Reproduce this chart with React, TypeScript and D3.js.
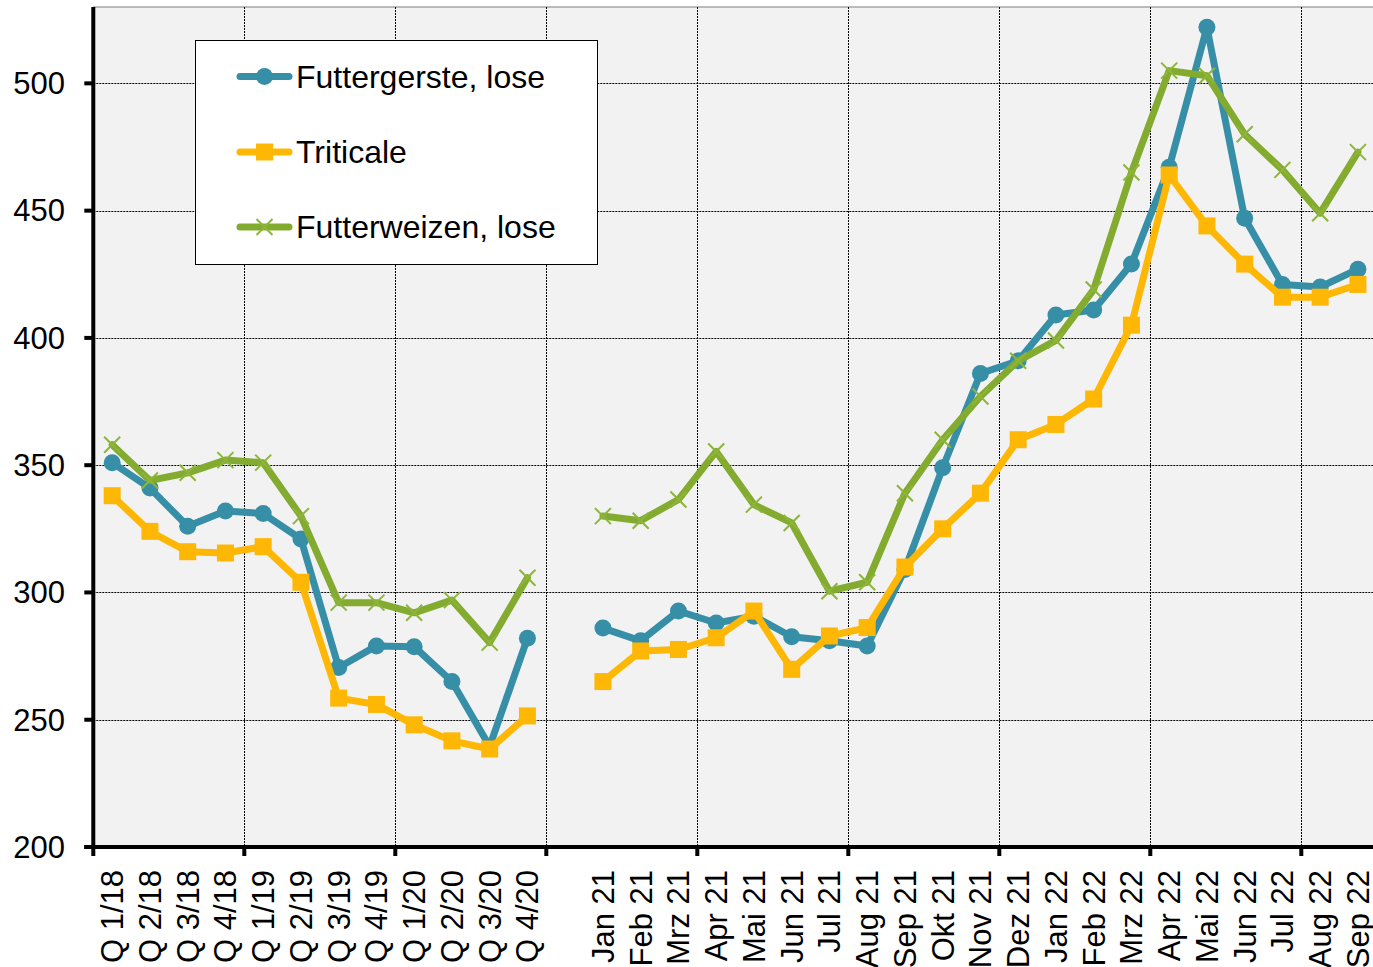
import { useEffect, useRef } from "react";
import * as d3 from "d3";

const W = 1373;
const H = 967;
const PLOT = { left: 93.3, top: 7, bottom: 847 };
const CAT_W = 37.75;
const FONT = '"Liberation Sans", Arial, sans-serif';

const CATEGORIES = [
  "Q 1/18", "Q 2/18", "Q 3/18", "Q 4/18",
  "Q 1/19", "Q 2/19", "Q 3/19", "Q 4/19",
  "Q 1/20", "Q 2/20", "Q 3/20", "Q 4/20",
  "",
  "Jan 21", "Feb 21", "Mrz 21", "Apr 21", "Mai 21", "Jun 21", "Jul 21",
  "Aug 21", "Sep 21", "Okt 21", "Nov 21", "Dez 21",
  "Jan 22", "Feb 22", "Mrz 22", "Apr 22", "Mai 22", "Jun 22", "Jul 22",
  "Aug 22", "Sep 22",
];

const GERSTE = [
  351, 341, 326, 332, 331, 321, 270.5, 279, 278.7, 265, 239.5, 282,
  null,
  286, 281, 292.7, 288, 290.7, 282.6, 281, 279, 309, 349, 386, 391,
  409, 411, 429, 467, 522, 447, 421, 420, 427,
];

const TRITICALE = [
  338, 324, 316, 315.5, 318, 304, 258.5, 256, 248, 241.7, 238.5, 251.5,
  null,
  265, 277, 277.6, 282.2, 292.7, 269.8, 282.9, 286.2, 310, 325, 339, 360,
  366, 376, 405, 464, 444, 429, 416, 416, 421,
];

const WEIZEN = [
  358, 344, 347, 352, 351, 330, 296, 296, 292, 297, 280.3, 305.8,
  null,
  330, 328.2, 336.5, 355.4, 334.5, 327.3, 300.5, 304, 339, 360, 377, 391,
  399, 419, 465, 505, 503, 480, 466, 449, 473,
];

const Y_TICKS = [200, 250, 300, 350, 400, 450, 500];

const SERIES = [
  { name: "Futtergerste, lose", values: GERSTE, color: "#368FA7", marker: "circle" },
  { name: "Triticale", values: TRITICALE, color: "#FFB706", marker: "square" },
  { name: "Futterweizen, lose", values: WEIZEN, color: "#83AB2F", marker: "cross" },
];

function drawMarker(g, type, color, cx, cy) {
  if (type === "circle") {
    g.append("circle").attr("cx", cx).attr("cy", cy).attr("r", 8.5).attr("fill", color);
  } else if (type === "square") {
    g.append("rect")
      .attr("x", cx - 8.5)
      .attr("y", cy - 8.5)
      .attr("width", 17)
      .attr("height", 17)
      .attr("fill", color);
  } else {
    const s = 8;
    g.append("path")
      .attr("d", `M${cx - s},${cy - s}L${cx + s},${cy + s}M${cx - s},${cy + s}L${cx + s},${cy - s}`)
      .attr("stroke", "#8DB53A")
      .attr("stroke-width", 2);
  }
}

export default function App() {
  const svgRef = useRef(null);

  useEffect(() => {
    const svg = d3.select(svgRef.current);
    svg.selectAll("*").remove();

    const x = d3
      .scaleBand()
      .domain(CATEGORIES.map((_, i) => String(i)))
      .range([PLOT.left, PLOT.left + CATEGORIES.length * CAT_W]);
    const cx = (i) => x(String(i)) + x.bandwidth() / 2;
    const y = d3.scaleLinear().domain([200, 530]).range([PLOT.bottom, PLOT.top]);
    const right = PLOT.left + CATEGORIES.length * CAT_W;

    // plot area
    svg
      .append("rect")
      .attr("x", PLOT.left)
      .attr("y", PLOT.top)
      .attr("width", right - PLOT.left)
      .attr("height", PLOT.bottom - PLOT.top)
      .attr("fill", "#F2F2F2");
    svg
      .append("line")
      .attr("x1", PLOT.left)
      .attr("x2", right)
      .attr("y1", PLOT.top)
      .attr("y2", PLOT.top)
      .attr("stroke", "#A6A6A6")
      .attr("stroke-width", 1.5);

    // grid
    const grid = svg.append("g");
    Y_TICKS.filter((v) => v > 200).forEach((v) => {
      grid
        .append("line")
        .attr("x1", PLOT.left)
        .attr("x2", right)
        .attr("y1", Math.round(y(v)) + 0.5)
        .attr("y2", Math.round(y(v)) + 0.5)
        .attr("stroke", "#000")
        .attr("stroke-width", 1)
        .attr("stroke-dasharray", "2,1");
    });
    const boundaries = d3.range(4, CATEGORIES.length, 4).map((i) => x(String(i)));
    boundaries.forEach((bx) => {
      grid
        .append("line")
        .attr("x1", Math.round(bx) + 0.5)
        .attr("x2", Math.round(bx) + 0.5)
        .attr("y1", PLOT.top)
        .attr("y2", PLOT.bottom)
        .attr("stroke", "#000")
        .attr("stroke-width", 1)
        .attr("stroke-dasharray", "2,1");
    });

    // series
    SERIES.forEach((s) => {
      const g = svg.append("g");
      const line = d3
        .line()
        .defined((v) => v != null)
        .x((_, i) => cx(i))
        .y((v) => y(v));
      g.append("path")
        .datum(s.values)
        .attr("d", line)
        .attr("fill", "none")
        .attr("stroke", s.color)
        .attr("stroke-width", 7)
        .attr("stroke-linejoin", "round")
        .attr("stroke-linecap", "round");
      s.values.forEach((v, i) => {
        if (v != null) drawMarker(g, s.marker, s.color, cx(i), y(v));
      });
    });

    // y axis
    const yAxis = svg.append("g");
    yAxis
      .append("line")
      .attr("x1", PLOT.left)
      .attr("x2", PLOT.left)
      .attr("y1", PLOT.top)
      .attr("y2", PLOT.bottom + 9)
      .attr("stroke", "#000")
      .attr("stroke-width", 4);
    Y_TICKS.forEach((v) => {
      yAxis
        .append("line")
        .attr("x1", PLOT.left - 9)
        .attr("x2", PLOT.left)
        .attr("y1", y(v))
        .attr("y2", y(v))
        .attr("stroke", "#000")
        .attr("stroke-width", 4);
      yAxis
        .append("text")
        .attr("x", 65)
        .attr("y", y(v))
        .attr("dy", "0.35em")
        .attr("text-anchor", "end")
        .attr("font-family", FONT)
        .attr("font-size", 31)
        .attr("fill", "#000")
        .text(v);
    });

    // x axis
    const xAxis = svg.append("g");
    xAxis
      .append("line")
      .attr("x1", PLOT.left - 9)
      .attr("x2", right)
      .attr("y1", PLOT.bottom)
      .attr("y2", PLOT.bottom)
      .attr("stroke", "#000")
      .attr("stroke-width", 4);
    boundaries.forEach((bx) => {
      xAxis
        .append("line")
        .attr("x1", bx)
        .attr("x2", bx)
        .attr("y1", PLOT.bottom)
        .attr("y2", PLOT.bottom + 9)
        .attr("stroke", "#000")
        .attr("stroke-width", 4);
    });
    CATEGORIES.forEach((c, i) => {
      xAxis
        .append("text")
        .attr("transform", `translate(${cx(i)},870) rotate(-90)`)
        .attr("dy", "0.35em")
        .attr("text-anchor", "end")
        .attr("font-family", FONT)
        .attr("font-size", 31)
        .attr("fill", "#000")
        .text(c);
    });

    // legend
    const legend = svg.append("g");
    legend
      .append("rect")
      .attr("x", 195.5)
      .attr("y", 40.5)
      .attr("width", 402)
      .attr("height", 224)
      .attr("fill", "#fff")
      .attr("stroke", "#000")
      .attr("stroke-width", 1);
    const rows = [76.5, 152, 227];
    SERIES.forEach((s, i) => {
      const ly = rows[i];
      legend
        .append("line")
        .attr("x1", 240)
        .attr("x2", 289)
        .attr("y1", ly)
        .attr("y2", ly)
        .attr("stroke", s.color)
        .attr("stroke-width", 7)
        .attr("stroke-linecap", "round");
      drawMarker(legend, s.marker, s.color, 264.5, ly);
      legend
        .append("text")
        .attr("x", 296)
        .attr("y", ly)
        .attr("dy", "0.35em")
        .attr("font-family", FONT)
        .attr("font-size", 32)
        .attr("fill", "#000")
        .text(s.name);
    });
  }, []);

  return (
    <div style={{ position: "fixed", left: 0, top: 0, width: W, height: H, overflow: "hidden", background: "#fff" }}>
      <svg ref={svgRef} width={W} height={H} style={{ display: "block" }} />
    </div>
  );
}
